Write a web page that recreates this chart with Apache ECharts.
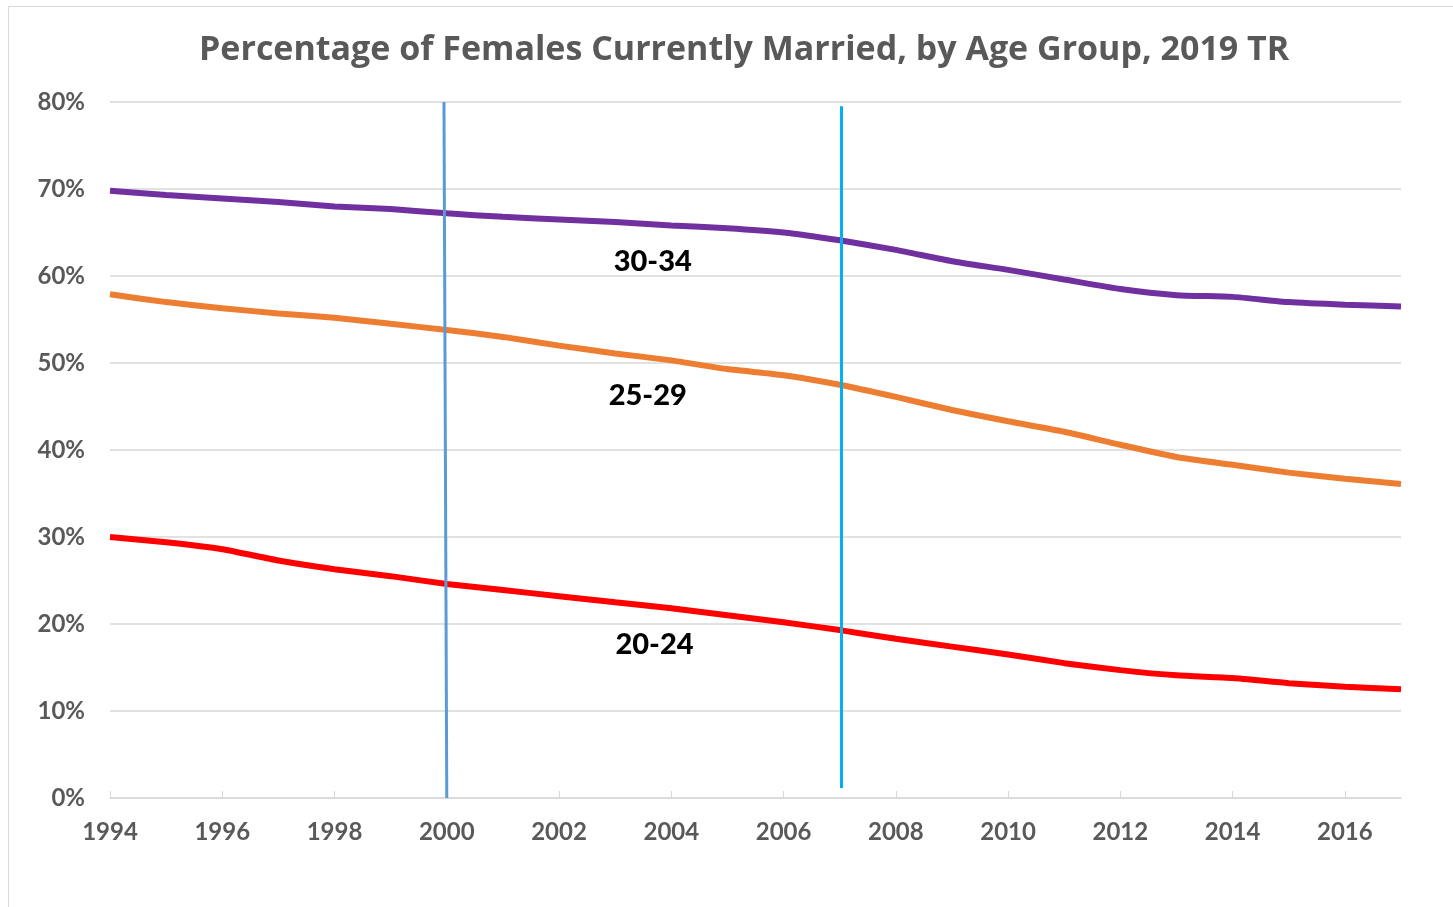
<!DOCTYPE html>
<html>
<head>
<meta charset="utf-8">
<script src="https://cdn.jsdelivr.net/npm/echarts@6/dist/echarts.min.js"></script>
<style>
  html, body { margin: 0; padding: 0; background: #fff; }
  #chart { width: 1453px; height: 907px; }
</style>
</head>
<body>
<div id="chart"></div>
<script>
// years 1994..2017
const years = [1994, 1995, 1996, 1997, 1998, 1999, 2000, 2001, 2002, 2003, 2004, 2005,
               2006, 2007, 2008, 2009, 2010, 2011, 2012, 2013, 2014, 2015, 2016, 2017];

// percent currently married
const age3034 = [69.8, 69.3, 68.9, 68.5, 68.0, 67.7, 67.2, 66.8, 66.5, 66.2, 65.8, 65.5,
                 65.0, 64.1, 63.0, 61.7, 60.7, 59.6, 58.5, 57.8, 57.6, 57.0, 56.7, 56.5];
const age2529 = [57.9, 57.0, 56.3, 55.7, 55.2, 54.5, 53.8, 53.0, 52.0, 51.1, 50.3, 49.3,
                 48.6, 47.5, 46.1, 44.6, 43.3, 42.1, 40.6, 39.2, 38.3, 37.4, 36.7, 36.1];
const age2024 = [30.0, 29.4, 28.6, 27.3, 26.3, 25.5, 24.6, 23.9, 23.2, 22.5, 21.8, 21.0,
                 20.2, 19.3, 18.3, 17.4, 16.5, 15.5, 14.7, 14.1, 13.8, 13.2, 12.8, 12.5];

// in-chart labels: [text, year, value]
const seriesLabels = [
    ['30-34', 2003.67, 61.6],
    ['25-29', 2003.58, 46.2],
    ['20-24', 2003.7, 17.6]
];

const pair = (arr) => years.map((y, i) => [y, arr[i]]);

const gray = '#595959';
const font = 'Lato, "Open Sans", sans-serif';

let chart = echarts.init(document.getElementById('chart'));

let option = {
    animation: false,
    backgroundColor: '#fff',
    title: {
        text: 'Percentage of Females Currently Married, by Age Group, 2019 TR',
        left: 194,
        top: 28,
        textStyle: { color: gray, fontFamily: '"Open Sans", sans-serif', fontWeight: 'bold', fontSize: 34 }
    },
    graphic: [{
        type: 'rect',
        shape: { x: 8.5, y: 6.5, width: 1460, height: 920 },
        style: { fill: 'none', stroke: '#d9d9d9', lineWidth: 1 },
        silent: true
    }],
    grid: { left: 110, right: 52, top: 102, bottom: 109, containLabel: false },
    xAxis: {
        type: 'value',
        min: 1994,
        max: 2017,
        interval: 2,
        splitLine: { show: false },
        axisLine: { lineStyle: { color: '#d9d9d9', width: 1.5 } },
        axisTick: { inside: true, length: 7, lineStyle: { color: '#d9d9d9' } },
        axisLabel: {
            showMaxLabel: false,
            margin: 22,
            color: gray, fontFamily: font, fontWeight: 'bold', fontSize: 24,
            formatter: (v) => (v === 2017 ? '' : String(v))
        }
    },
    yAxis: {
        type: 'value',
        min: 0,
        max: 80,
        interval: 10,
        axisLine: { show: false },
        axisTick: { show: false },
        splitLine: { lineStyle: { color: '#d9d9d9', width: 1.5 } },
        axisLabel: {
            margin: 25,
            color: gray, fontFamily: font, fontWeight: 'bold', fontSize: 24,
            formatter: '{value}%'
        }
    },
    series: [
        {
            name: '30-34',
            type: 'line',
            data: pair(age3034),
            smooth: 0.2,
            showSymbol: false,
            lineStyle: { color: '#7030A0', width: 6 },
            z: 3
        },
        {
            name: '25-29',
            type: 'line',
            data: pair(age2529),
            smooth: 0.2,
            showSymbol: false,
            lineStyle: { color: '#ED7D31', width: 6 },
            z: 3
        },
        {
            name: '20-24',
            type: 'line',
            data: pair(age2024),
            smooth: 0.2,
            showSymbol: false,
            lineStyle: { color: '#FF0000', width: 6 },
            z: 3
        },
        {
            // text labels + two vertical marker lines
            type: 'line',
            data: [],
            z: 4,
            markPoint: {
                symbol: 'circle',
                symbolSize: 1,
                itemStyle: { color: 'rgba(0,0,0,0)' },
                label: {
                    show: true,
                    position: 'inside',
                    color: '#000',
                    fontFamily: font,
                    fontWeight: 900,
                    fontSize: 29,
                    formatter: (p) => p.name
                },
                data: seriesLabels.map(([t, x, y]) => ({ name: t, coord: [x, y] }))
            },
            markLine: {
                silent: true,
                symbol: 'none',
                label: { show: false },
                data: [
                    [
                        { coord: [1999.95, 80], lineStyle: { color: '#5B9BD5', width: 3, type: 'solid' } },
                        { coord: [2000.0, 0] }
                    ],
                    [
                        { coord: [2007.02, 79.5], lineStyle: { color: '#00B0F0', width: 3, type: 'solid' } },
                        { coord: [2007.02, 1.15] }
                    ]
                ]
            }
        }
    ]
};

chart.setOption(option);
</script>
</body>
</html>
